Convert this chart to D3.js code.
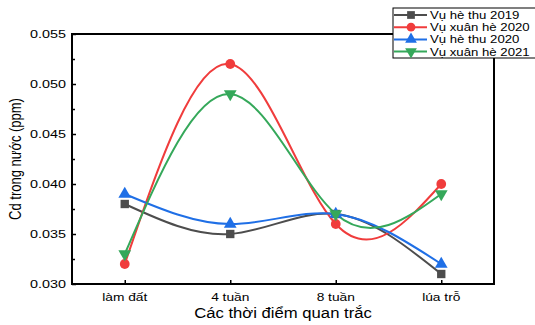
<!DOCTYPE html>
<html lang="vi">
<head>
<meta charset="UTF-8">
<script src="https://d3js.org/d3.v7.min.js"></script>
<title>Cd trong nước</title>
<style>
  body { margin: 0; background: #fff; }
  text { font-family: "Liberation Sans", Arial, sans-serif; fill: #000; }
</style>
</head>
<body>
<div id="viz"></div>
<script>
  const categories = ["làm đất", "4 tuần", "8 tuần", "lúa trỗ"]
  const yTicks = [0.030, 0.035, 0.040, 0.045, 0.050, 0.055]
  const seriesNames = ["Vụ hè thu 2019", "Vụ xuân hè 2020", "Vụ hè thu 2020", "Vụ xuân hè 2021"]
  const heThu2019 = [0.038, 0.035, 0.037, 0.031]
  const xuanHe2020 = [0.032, 0.052, 0.036, 0.040]
  const heThu2020 = [0.039, 0.036, 0.037, 0.032]
  const xuanHe2021 = [0.033, 0.049, 0.037, 0.039]

  const colors = ["#4d4d4d", "#f03c3c", "#1f6fe6", "#35a85a"]
  const symbols = [d3.symbolSquare, d3.symbolCircle, d3.symbolTriangle, d3.symbolTriangle]
  const values = [heThu2019, xuanHe2020, heThu2020, xuanHe2021]

  const width = 535, height = 325
  const margin = {top: 34, left: 72, right: 41, bottom: 41}
  const sx = 1.25 // reference text is stretched horizontally

  const svg = d3.select("#viz").append("svg")
    .attr("width", width).attr("height", height)

  const x = d3.scaleLinear().domain([-0.5, 3.5])
    .range([margin.left, width - margin.right])
  const y = d3.scaleLinear().domain([0.030, 0.055])
    .range([height - margin.bottom, margin.top])

  // ticks pointing inward
  svg.append("g")
    .attr("transform", `translate(${margin.left},0)`)
    .call(d3.axisLeft(y).tickValues(d3.range(0.0325, 0.055, 0.005)).tickSize(-3).tickSizeOuter(0).tickFormat(""))
    .call(g => g.select(".domain").remove())
    .selectAll("line").attr("stroke-width", 1.5)
  svg.append("g")
    .attr("transform", `translate(${margin.left},0)`)
    .call(d3.axisLeft(y).tickValues(yTicks).tickSize(-4).tickSizeOuter(0).tickFormat(""))
    .call(g => g.select(".domain").remove())
    .selectAll("line").attr("stroke-width", 1.5)
  svg.append("g")
    .attr("transform", `translate(0,${height - margin.bottom})`)
    .call(d3.axisBottom(x).tickValues(d3.range(categories.length)).tickSize(-4).tickSizeOuter(0).tickFormat(""))
    .call(g => g.select(".domain").remove())
    .selectAll("line").attr("stroke-width", 1.5)

  // frame
  svg.append("rect")
    .attr("x", margin.left).attr("y", margin.top)
    .attr("width", width - margin.left - margin.right)
    .attr("height", height - margin.top - margin.bottom)
    .attr("fill", "none").attr("stroke", "#000").attr("stroke-width", 2)

  // tick labels
  svg.selectAll(".ylab").data(yTicks).enter().append("text")
    .attr("transform", d => `translate(${margin.left - 6},${y(d) + 4}) scale(${sx},1)`)
    .attr("text-anchor", "end").attr("font-size", 11.5)
    .text(d => d3.format(".3f")(d))
  svg.selectAll(".xlab").data(categories).enter().append("text")
    .attr("transform", (d, i) => `translate(${x(i)},${height - margin.bottom + 17}) scale(${sx},1)`)
    .attr("text-anchor", "middle").attr("font-size", 11)
    .text(d => d)

  // axis titles
  svg.append("text")
    .attr("transform", `translate(${(margin.left + width - margin.right) / 2},${height - 7}) scale(1.15,1)`)
    .attr("text-anchor", "middle").attr("font-size", 14.5)
    .text("Các thời điểm quan trắc")
  svg.append("text")
    .attr("transform", `translate(21,${(margin.top + height - margin.bottom) / 2}) rotate(-90) scale(1,1.25)`)
    .attr("text-anchor", "middle").attr("font-size", 13)
    .text("Cd trong nước (ppm)")

  const lineGen = d3.line()
    .x((d, i) => x(i))
    .y(d => y(d))
    .curve(d3.curveNatural)

  values.forEach((vals, k) => {
    svg.append("path")
      .attr("d", lineGen(vals))
      .attr("fill", "none").attr("stroke", colors[k]).attr("stroke-width", 2)
  })
  values.forEach((vals, k) => {
    svg.selectAll(".m" + k).data(vals).enter().append("path")
      .attr("d", d3.symbol().type(symbols[k]).size(k === 1 ? 75 : 70))
      .attr("transform", (d, i) => `translate(${x(i)},${y(d)})` + (k === 3 ? " rotate(180)" : ""))
      .attr("fill", colors[k])
  })

  // legend
  const lg = svg.append("g").attr("transform", "translate(393,8)")
  lg.append("rect").attr("width", 147).attr("height", 50)
    .attr("fill", "#fff").attr("stroke", "#000").attr("stroke-width", 1)
  seriesNames.forEach((name, k) => {
    const ly = 7 + k * 12.2
    lg.append("line").attr("x1", 1).attr("x2", 34).attr("y1", ly).attr("y2", ly)
      .attr("stroke", colors[k]).attr("stroke-width", 2)
    lg.append("path")
      .attr("d", d3.symbol().type(symbols[k]).size(60))
      .attr("transform", `translate(18,${ly})` + (k === 3 ? " rotate(180)" : ""))
      .attr("fill", colors[k])
    lg.append("text")
      .attr("transform", `translate(37,${ly + 4}) scale(1.2,1)`)
      .attr("font-size", 11)
      .text(name)
  })
</script>
</body>
</html>
